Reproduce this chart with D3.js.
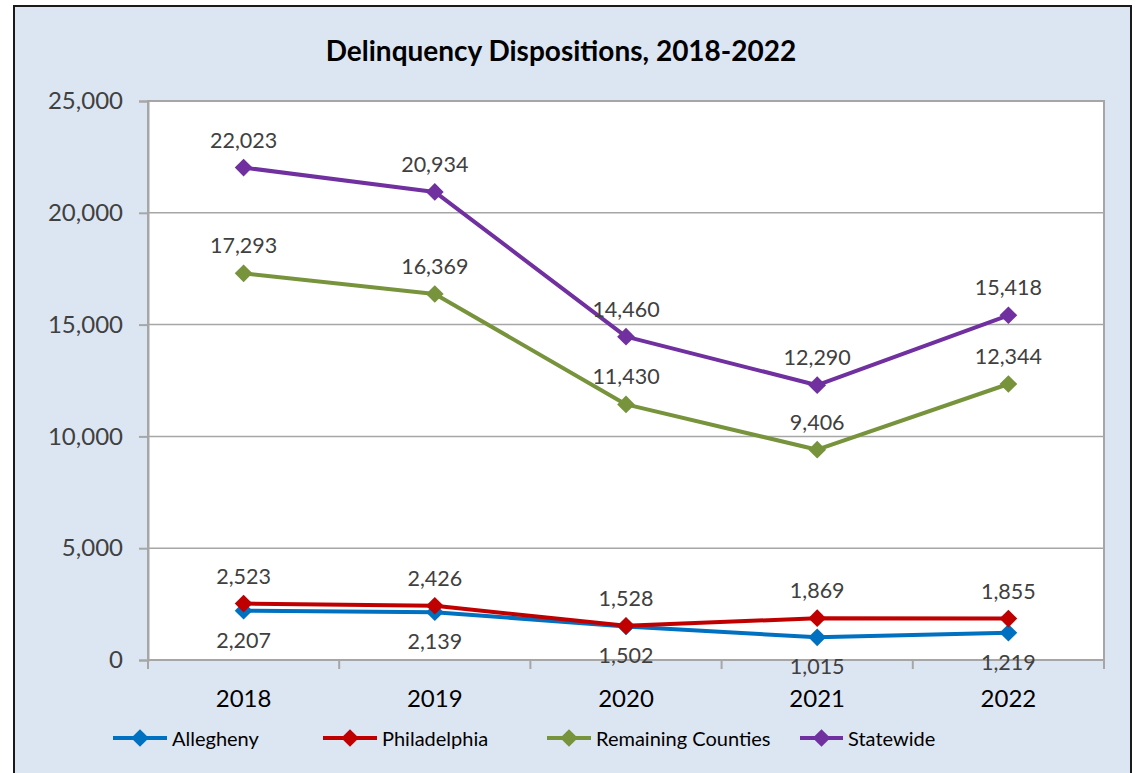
<!DOCTYPE html>
<html>
<head>
<meta charset="utf-8">
<script src="https://cdn.jsdelivr.net/npm/d3@7"></script>
<style>
  body { margin: 0; background: #fff; }
  text { font-family: Lato, "Liberation Sans", sans-serif; }
</style>
</head>
<body>
<div id="chart"></div>
<script>
// chart data
var years = ['2018', '2019', '2020', '2021', '2022'];
var allegheny = [2207, 2139, 1502, 1015, 1219];
var philadelphia = [2523, 2426, 1528, 1869, 1855];
var remaining = [17293, 16369, 11430, 9406, 12344];
var statewide = [22023, 20934, 14460, 12290, 15418];
var yTicks = [0, 5000, 10000, 15000, 20000, 25000];

var series = [
  { name: 'Allegheny', values: allegheny, color: '#0070c0', below: true },
  { name: 'Philadelphia', values: philadelphia, color: '#c00000', below: false },
  { name: 'Remaining Counties', values: remaining, color: '#77933c', below: false },
  { name: 'Statewide', values: statewide, color: '#7030a0', below: false }
];

var W = 1137, H = 773;
var margin = { top: 101, left: 148, right: 33, bottom: 113 };
var width = W - margin.left - margin.right,
    height = H - margin.top - margin.bottom;

var svg = d3.select('#chart').append('svg')
  .attr('width', W).attr('height', H);

// outer frame
svg.append('rect')
  .attr('x', 14).attr('y', 6).attr('width', 1117).attr('height', 790)
  .attr('fill', '#dce6f2').attr('stroke', '#1a1a1a').attr('stroke-width', 2);

svg.append('text')
  .attr('x', 561).attr('y', 61)
  .attr('text-anchor', 'middle')
  .style('font-size', '28px').style('font-weight', 'bold')
  .text('Delinquency Dispositions, 2018-2022');

var g = svg.append('g')
  .attr('transform', 'translate(' + margin.left + ',' + margin.top + ')');

g.append('rect')
  .attr('width', width).attr('height', height)
  .attr('fill', '#fff').attr('stroke', '#a6a6a6').attr('stroke-width', 2);

var x = d3.scaleBand().domain(years).range([0, width]);
var y = d3.scaleLinear().domain([0, 25000]).range([height, 0]);

// gridlines
g.selectAll('.grid').data(yTicks.slice(1, -1)).enter().append('line')
  .attr('x1', 0).attr('x2', width)
  .attr('y1', function (d) { return y(d); }).attr('y2', function (d) { return y(d); })
  .attr('stroke', '#a6a6a6').attr('stroke-width', 1.5);

// y axis
var yAxis = d3.axisLeft(y).tickValues(yTicks).tickSize(9).tickPadding(16)
  .tickFormat(d3.format(','));
var yG = g.append('g').call(yAxis);
yG.select('.domain').attr('stroke', '#a6a6a6').attr('stroke-width', 2);
yG.selectAll('.tick line').attr('stroke', '#a6a6a6').attr('stroke-width', 2);
yG.selectAll('.tick text').style('font-size', '24px').attr('fill', '#404040');

// x axis with ticks between categories
var xG = g.append('g').attr('transform', 'translate(0,' + height + ')');
xG.append('line').attr('x1', 0).attr('x2', width)
  .attr('stroke', '#a6a6a6').attr('stroke-width', 2);
xG.selectAll('.xt').data(d3.range(years.length + 1)).enter().append('line')
  .attr('x1', function (i) { return i * x.bandwidth(); })
  .attr('x2', function (i) { return i * x.bandwidth(); })
  .attr('y1', 0).attr('y2', 9)
  .attr('stroke', '#a6a6a6').attr('stroke-width', 2);
xG.selectAll('.xl').data(years).enter().append('text')
  .attr('x', function (d) { return x(d) + x.bandwidth() / 2; })
  .attr('y', 47)
  .attr('text-anchor', 'middle')
  .style('font-size', '24px').attr('fill', '#000')
  .text(function (d) { return d; });

var line = d3.line()
  .x(function (d, i) { return x(years[i]) + x.bandwidth() / 2; })
  .y(function (d) { return y(d); });

var diamond = d3.symbol().type(d3.symbolDiamond2).size(200);

series.forEach(function (s) {
  g.append('path').datum(s.values)
    .attr('d', line).attr('fill', 'none')
    .attr('stroke', s.color).attr('stroke-width', 4)
    .attr('stroke-linejoin', 'round');
  g.selectAll(null).data(s.values).enter().append('path')
    .attr('d', diamond)
    .attr('transform', function (d, i) {
      return 'translate(' + (x(years[i]) + x.bandwidth() / 2) + ',' + y(d) + ')';
    })
    .attr('fill', s.color);
  g.selectAll(null).data(s.values).enter().append('text')
    .attr('x', function (d, i) { return x(years[i]) + x.bandwidth() / 2; })
    .attr('y', function (d) { return s.below ? y(d) + 37 : y(d) - 20; })
    .attr('text-anchor', 'middle')
    .style('font-size', '21.5px').attr('fill', '#404040')
    .text(function (d) { return d3.format(',')(d); });
});

// legend
var legendX = [113, 323, 547, 800];
var legendText = [172, 382, 596, 848];
var leg = svg.selectAll('.leg').data(series).enter().append('g')
  .attr('transform', function (d, i) { return 'translate(' + legendX[i] + ',738)'; });
leg.append('line').attr('x1', 0)
  .attr('x2', function (d, i) { return legendText[i] - legendX[i] - 5; })
  .attr('stroke', function (d) { return d.color; }).attr('stroke-width', 4);
leg.append('path').attr('d', diamond)
  .attr('transform', function (d, i) { return 'translate(' + (legendText[i] - legendX[i] - 5) / 2 + ',0)'; })
  .attr('fill', function (d) { return d.color; });
leg.append('text')
  .attr('x', function (d, i) { return legendText[i] - legendX[i]; })
  .attr('y', 8)
  .style('font-size', '20px').attr('fill', '#000')
  .text(function (d) { return d.name; });
</script>
</body>
</html>
